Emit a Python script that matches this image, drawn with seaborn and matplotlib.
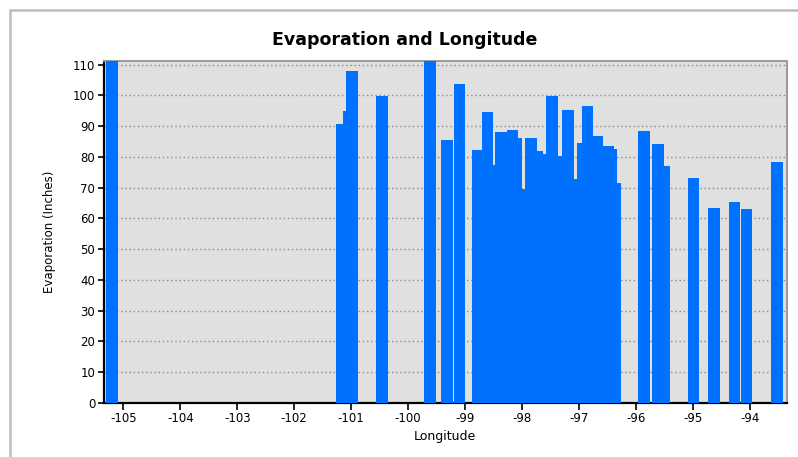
import matplotlib
matplotlib.use("Agg")
import matplotlib.pyplot as plt
import seaborn as sns
import numpy as np
import pandas as pd
from matplotlib.lines import Line2D

# ---- data ----
longitude = [-105.20, -101.17, -101.04, -100.99, -100.46, -99.62, -99.32, -99.10,
             -98.78, -98.61, -98.53, -98.37, -98.17, -98.10, -98.02, -97.84,
             -97.73, -97.65, -97.48, -97.41, -97.20, -97.13, -96.93, -96.85,
             -96.68, -96.49, -96.44, -96.37, -95.86, -95.61, -95.51, -94.99,
             -94.63, -94.27, -94.06, -93.53]
evaporation = [114.0, 90.7, 95.0, 108.1, 99.8, 112.0, 85.6, 103.6,
               82.3, 94.5, 77.3, 88.2, 88.8, 86.1, 69.7, 86.1,
               81.8, 80.9, 99.8, 80.4, 95.2, 72.7, 84.4, 96.5,
               86.9, 83.6, 82.5, 71.4, 88.4, 84.1, 76.9, 73.0,
               63.5, 65.4, 62.9, 78.2]
x_ticks = [-105, -104, -103, -102, -101, -100, -99, -98, -97, -96, -95, -94]
y_ticks = [0, 10, 20, 30, 40, 50, 60, 70, 80, 90, 100, 110]

df = pd.DataFrame({"Longitude": longitude, "Evaporation": evaporation})

sns.set_theme(style="white")
plt.rcParams["font.family"] = ["DejaVu Sans"]
plt.rcParams["axes.unicode_minus"] = False

fig = plt.figure(figsize=(7.98, 4.57), dpi=100)
fig.patch.set_facecolor("white")
# outer gray frame (left and top edges only visible)
fx = 9.5 / 798
fy = 1 - 9.5 / 457
fig.add_artist(Line2D([fx, 1.0], [fy, fy], transform=fig.transFigure,
                      color="#bdbdbd", linewidth=1.8))
fig.add_artist(Line2D([fx, fx], [0.0, fy], transform=fig.transFigure,
                      color="#bdbdbd", linewidth=1.8))

ax = fig.add_axes([103.5 / 798, 1 - 402.7 / 457, (786.7 - 103.5) / 798, (402.7 - 60.7) / 457])
ax.set_facecolor("#e0e0e0")

bar_w = 0.205
ax.bar(df["Longitude"], df["Evaporation"], width=bar_w, color="#0070ff",
       edgecolor="none", linewidth=0, zorder=3)
sns.despine(ax=ax, top=False, right=False)

ax.set_xlim(-105.348, -93.355)
ax.set_ylim(0, 111.3)
ax.set_xticks(x_ticks)
ax.set_xticklabels([f"{t}" for t in x_ticks])
ax.set_yticks(y_ticks)
ax.set_yticklabels([f"{t}" for t in y_ticks])

for yv in y_ticks[1:]:
    ax.axhline(yv, color="#8a8a8a", linestyle=(0, (1, 2)), linewidth=1.0, zorder=1)

ax.tick_params(axis="both", which="both", direction="out", length=4, width=1.2,
               color="black", labelsize=8.5, pad=2, labelcolor="black",
               bottom=True, left=True)
ax.tick_params(axis="x", length=5)

for side in ("left", "bottom"):
    ax.spines[side].set_color("black")
    ax.spines[side].set_linewidth(1.6)
for side in ("top", "right"):
    ax.spines[side].set_color("#9a9a9a")
    ax.spines[side].set_linewidth(1.4)

ax.set_xlabel("Longitude", fontsize=9, labelpad=3, color="black")
ax.set_ylabel("Evaporation (Inches)", fontsize=8.5, labelpad=12, color="black")
fig.text(405 / 798, 1 - 40 / 457, "Evaporation and Longitude", ha="center", va="center",
         fontsize=12.5, fontweight="bold", color="black")

fig.savefig("out.png", dpi=100, facecolor="white")
